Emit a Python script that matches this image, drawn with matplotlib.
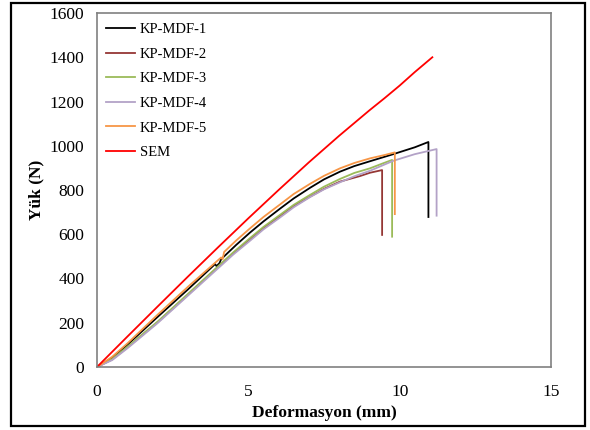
import matplotlib
matplotlib.use("Agg")
import matplotlib.pyplot as plt
from matplotlib.patches import Rectangle

plt.rcParams['font.family'] = ['Liberation Serif', 'DejaVu Serif']

# Load-deformation curves (deformation in mm, load in N)
kp1_x = [0, 0.5, 1, 2, 3, 3.9, 3.95, 4.05, 4.1, 4.6, 5.05, 5.5, 6.05, 6.5, 7.04, 7.5, 8.03, 8.5,
         9.02, 9.79, 10.5, 10.95, 10.95]
kp1_y = [0, 40, 100, 226, 350, 465, 456, 470, 487, 552, 607, 658, 716, 762, 810, 848, 883, 908,
         930, 962, 993, 1017, 678]

kp2_x = [0, 0.5, 1, 2, 3, 4, 4.5, 5.05, 5.5, 6.05, 6.5, 7.04, 7.5, 8.03, 8.69, 9.02, 9.42, 9.42]
kp2_y = [0, 34, 88, 202, 326, 452, 514, 576, 628, 682, 727, 770, 805, 838, 863, 878, 890, 597]

kp3_x = [0, 0.5, 1, 2, 3, 4, 4.5, 5.05, 5.5, 6.05, 6.5, 7.04, 7.5, 8.03, 8.5, 9.02, 9.4, 9.75, 9.75]
kp3_y = [0, 36, 91, 205, 330, 455, 518, 582, 633, 688, 733, 778, 815, 850, 877, 898, 918, 936, 589]

kp4_x = [0, 0.5, 1, 2, 3, 4, 4.5, 5.05, 5.5, 6.05, 6.5, 7.04, 7.5, 8.03, 8.5, 9.02, 9.79, 10.5,
         11.22, 11.22]
kp4_y = [0, 31, 84, 198, 322, 446, 508, 570, 622, 676, 722, 768, 803, 835, 862, 887, 932, 962,
         985, 684]

kp5_x = [0, 0.5, 1, 2, 3, 4.1, 4.15, 4.2, 4.6, 5.05, 5.5, 6.05, 6.5, 7.04, 7.5, 8.03, 8.5, 9.02,
         9.5, 9.84, 9.84]
kp5_y = [0, 46, 106, 236, 362, 495, 487, 520, 572, 626, 678, 735, 782, 828, 864, 898, 922, 943,
         958, 970, 691]

sem_x = [0, 1, 2, 3, 4, 5, 6, 7, 8, 9, 9.5, 10, 10.5, 11.08]
sem_y = [0, 137, 273, 408, 541, 672, 800, 925, 1045, 1160, 1215, 1272, 1333, 1400]

series = [
    ("KP-MDF-1", kp1_x, kp1_y, "#000000"),
    ("KP-MDF-2", kp2_x, kp2_y, "#953735"),
    ("KP-MDF-3", kp3_x, kp3_y, "#9BBB59"),
    ("KP-MDF-4", kp4_x, kp4_y, "#B3A2C7"),
    ("KP-MDF-5", kp5_x, kp5_y, "#F79646"),
    ("SEM", sem_x, sem_y, "#FF0000"),
]

W, H = 590, 430
fig = plt.figure(figsize=(W / 100, H / 100), dpi=100)
ax = fig.add_axes([97 / W, 1 - 367 / H, (551 - 97) / W, (367 - 13) / H])

for name, xs, ys, col in series:
    ax.plot(xs, ys, color=col, lw=1.3, label=name)

ax.set_xlim(0, 15)
ax.set_ylim(0, 1600)
ax.set_xticks([0, 5, 10, 15])
ax.set_yticks(range(0, 1601, 200))
ax.tick_params(length=0, labelsize=12.5)
ax.tick_params(axis='y', pad=9)
ax.tick_params(axis='x', pad=12)
for s in ax.spines.values():
    s.set_color("#808080")
    s.set_linewidth(1.2)

ax.set_xlabel("Deformasyon (mm)", fontsize=12.5, fontweight='bold', labelpad=4)
ax.set_ylabel("Yük (N)", fontsize=12.5, fontweight='bold', labelpad=4)

ax.legend(loc='upper left', bbox_to_anchor=(106 / W, 1 - 23 / H),
          bbox_transform=fig.transFigure, frameon=False, fontsize=10.5,
          handlelength=2.0, handletextpad=0.3, labelspacing=0.78, borderpad=0,
          borderaxespad=0)

# outer frame around the whole chart
fig.patches.append(Rectangle((11 / W, 1 - 426 / H), (585 - 11) / W, (426 - 3) / H,
                             transform=fig.transFigure, fill=False,
                             edgecolor='black', lw=1.6))

fig.savefig("out.png", dpi=100)
